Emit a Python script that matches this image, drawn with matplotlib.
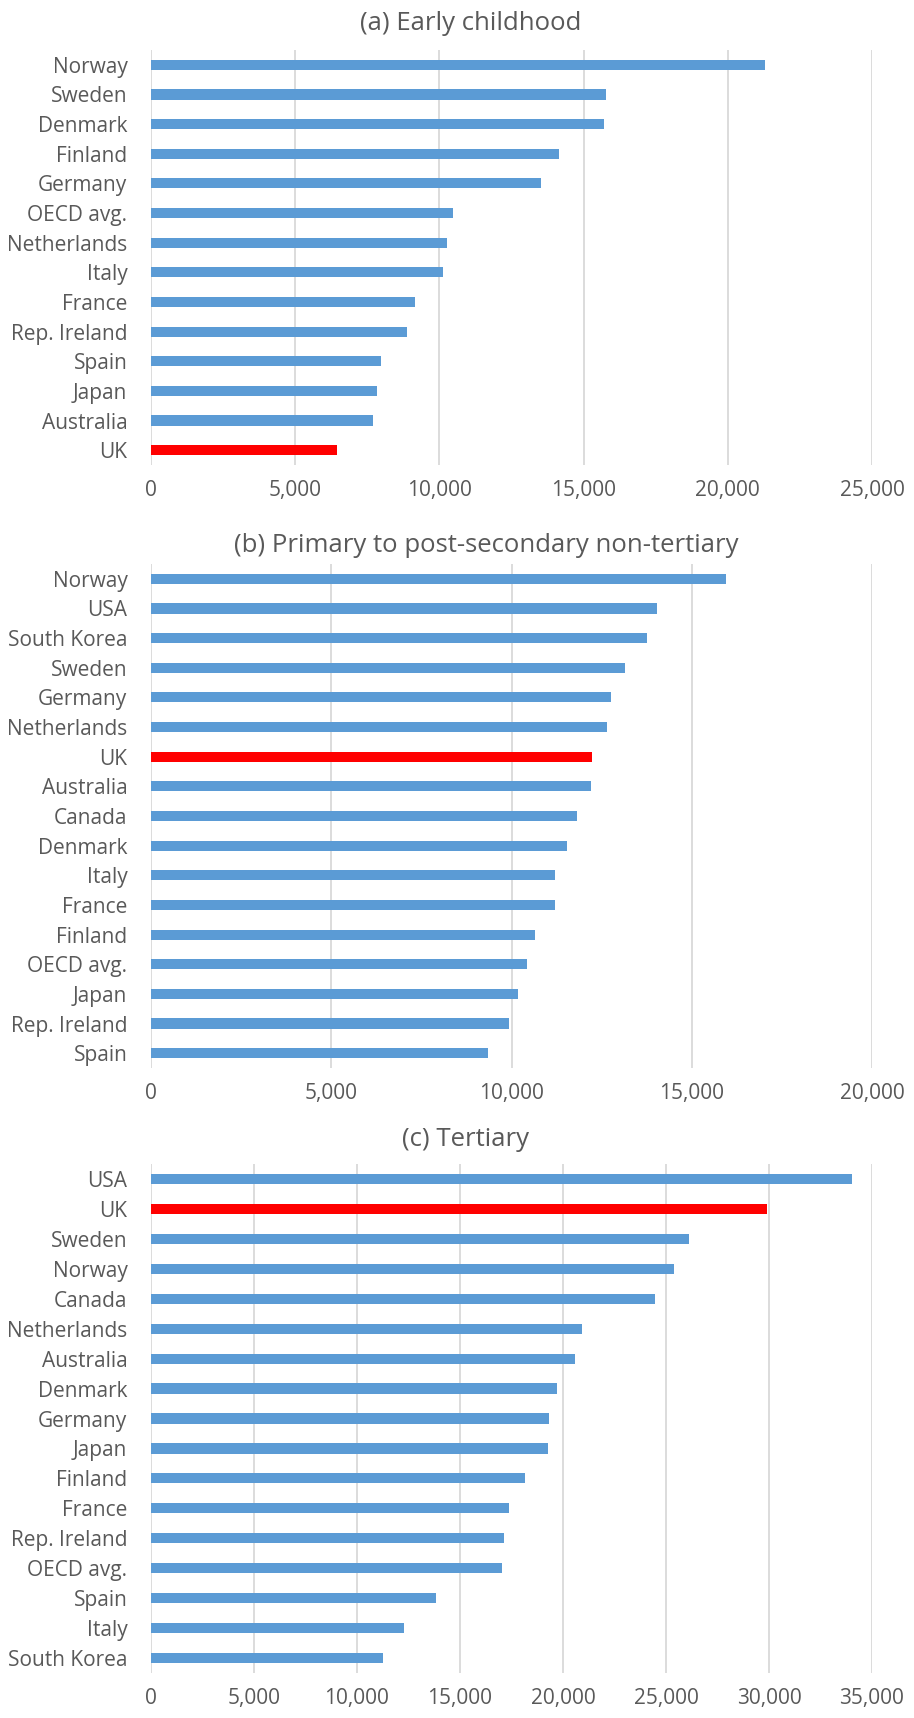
import matplotlib
matplotlib.use("Agg")
import matplotlib.pyplot as plt
from matplotlib.ticker import FuncFormatter
import numpy as np

plt.rcParams["font.family"] = ["Open Sans", "DejaVu Sans"]

# (a) Early childhood
early_countries = ["Norway", "Sweden", "Denmark", "Finland", "Germany", "OECD avg.",
                   "Netherlands", "Italy", "France", "Rep. Ireland", "Spain", "Japan",
                   "Australia", "UK"]
early_values = [21300, 15790, 15710, 14140, 13540, 10460, 10280, 10120, 9150, 8890,
                7985, 7845, 7700, 6455]

# (b) Primary to post-secondary non-tertiary
primary_countries = ["Norway", "USA", "South Korea", "Sweden", "Germany", "Netherlands",
                     "UK", "Australia", "Canada", "Denmark", "Italy", "France", "Finland",
                     "OECD avg.", "Japan", "Rep. Ireland", "Spain"]
primary_values = [15960, 14030, 13770, 13145, 12760, 12660, 12245, 12210, 11825, 11550,
                  11215, 11210, 10650, 10440, 10170, 9930, 9350]

# (c) Tertiary
tertiary_countries = ["USA", "UK", "Sweden", "Norway", "Canada", "Netherlands", "Australia",
                      "Denmark", "Germany", "Japan", "Finland", "France", "Rep. Ireland",
                      "OECD avg.", "Spain", "Italy", "South Korea"]
tertiary_values = [34015, 29880, 26110, 25380, 24480, 20900, 20595, 19695, 19330, 19270,
                   18175, 17390, 17135, 17020, 13815, 12295, 11255]

titles = ["(a) Early childhood", "(b) Primary to post-secondary non-tertiary", "(c) Tertiary"]
x_max = [25000, 20000, 35000]

BLUE = "#5B9BD5"
RED = "#FF0000"
TEXT = "#595959"
GRID = "#D9D9D9"

W, H = 914, 1718
fig = plt.figure(figsize=(W / 100, H / 100), dpi=100)

# plot areas in pixels: (top, bottom)
boxes = [(50, 465), (564, 1068), (1164, 1673)]
title_pos = [(471, 24), (486, 545), (466, 1140)]
left, right = 151, 872

panels = [(early_countries, early_values),
          (primary_countries, primary_values),
          (tertiary_countries, tertiary_values)]

for (cats, vals), (top, bot), xm, title, (tx, ty) in zip(panels, boxes, x_max, titles, title_pos):
    ax = fig.add_axes([left / W, 1 - bot / H, (right - left) / W, (bot - top) / H])
    y = np.arange(len(cats))
    colors = [RED if c == "UK" else BLUE for c in cats]
    ax.barh(y, vals, height=0.34, color=colors, zorder=3)
    ax.set_ylim(len(cats) - 0.5, -0.5)
    ax.set_yticks(y)
    ax.set_yticklabels(cats)
    ax.set_xlim(0, xm)
    ax.set_xticks(np.arange(0, xm + 1, 5000))
    ax.xaxis.set_major_formatter(FuncFormatter(lambda v, p: f"{int(v):,}"))
    ax.grid(axis="x", color=GRID, linewidth=1.3, zorder=0)
    ax.set_axisbelow(True)
    for s in ax.spines.values():
        s.set_visible(False)
    ax.tick_params(axis="y", length=0, pad=17, labelsize=15, labelcolor=TEXT)
    ax.tick_params(axis="x", length=0, pad=11, labelsize=15, labelcolor=TEXT)
    fig.text(tx / W, 1 - ty / H, title, ha="center", va="center",
             fontsize=18.5, color=TEXT)

fig.savefig("out.png", dpi=100)
